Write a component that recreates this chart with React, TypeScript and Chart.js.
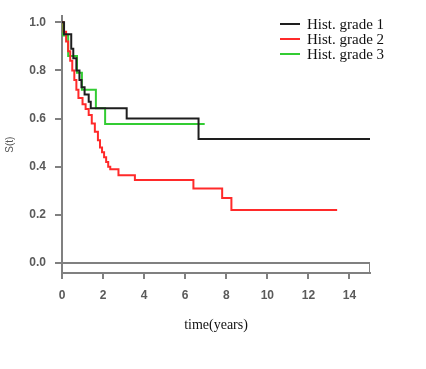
import React, { useEffect, useRef } from "react";
import { Chart, registerables } from "chart.js";

Chart.register(...registerables);

// Kaplan–Meier curves: event times (years) and survival after each event
const grade1Times = [0, 0.1, 0.45, 0.55, 0.7, 0.85, 0.95, 1.1, 1.3, 1.4, 3.15, 6.65, 15];
const grade1Surv = [1.0, 0.95, 0.89, 0.85, 0.8, 0.76, 0.73, 0.7, 0.67, 0.643, 0.6, 0.515, 0.515];

const grade2Times = [0, 0.08, 0.2, 0.3, 0.4, 0.5, 0.6, 0.7, 0.8, 1.0, 1.15, 1.3, 1.45, 1.6, 1.75, 1.85, 1.95, 2.05, 2.15, 2.25, 2.35, 2.75, 3.55, 6.4, 7.8, 8.25, 13.4];
const grade2Surv = [1.0, 0.96, 0.92, 0.88, 0.84, 0.8, 0.76, 0.72, 0.685, 0.66, 0.64, 0.615, 0.58, 0.545, 0.51, 0.48, 0.46, 0.44, 0.42, 0.4, 0.39, 0.365, 0.345, 0.31, 0.27, 0.22, 0.22];

const grade3Times = [0, 0.05, 0.3, 0.73, 0.97, 1.65, 2.1, 6.95];
const grade3Surv = [1.0, 0.945, 0.86, 0.79, 0.72, 0.643, 0.578, 0.578];

const seriesLabels = ["Hist. grade 1", "Hist. grade 2", "Hist. grade 3"];
const seriesColors = ["#1e1e1e", "#ff2a2a", "#33cc33"];

const xTicks = [0, 2, 4, 6, 8, 10, 12, 14];
const yTicks = [0, 0.2, 0.4, 0.6, 0.8, 1.0];
const xRange = [0, 15];
const yRange = [-0.041, 1.025];

const toPoints = (t: number[], s: number[]) => t.map((x, i) => ({ x, y: s[i] }));

const legendPlugin = {
  id: "kmLegend",
  afterDraw(chart: any) {
    const ctx = chart.ctx;
    ctx.save();
    ctx.font = '15px "Liberation Serif", "Times New Roman", serif';
    ctx.textBaseline = "middle";
    ctx.textAlign = "left";
    seriesLabels.forEach((lab, i) => {
      const y = 24 + i * 15;
      ctx.strokeStyle = seriesColors[i];
      ctx.lineWidth = 2;
      ctx.beginPath();
      ctx.moveTo(280, y);
      ctx.lineTo(300, y);
      ctx.stroke();
      ctx.fillStyle = "#111";
      ctx.fillText(lab, 307, y + 1);
    });
    ctx.restore();
  },
};

export default function App() {
  const ref = useRef<HTMLCanvasElement>(null);
  useEffect(() => {
    if (!ref.current) return;
    const tickFont = { family: '"Liberation Sans", Arial, sans-serif', size: 12, weight: "bold" as const };
    const chart = new Chart(ref.current, {
      type: "line",
      data: {
        datasets: [
          {
            label: "zero",
            data: [{ x: xRange[0], y: 0 }, { x: xRange[1], y: 0 }, { x: xRange[1], y: yRange[0] }],
            borderColor: "#808080",
            borderWidth: 2,
            pointRadius: 0,
          },
          {
            label: seriesLabels[0],
            data: toPoints(grade1Times, grade1Surv),
            borderColor: seriesColors[0],
            borderWidth: 2,
            pointRadius: 0,
            stepped: true,
          },
          {
            label: seriesLabels[1],
            data: toPoints(grade2Times, grade2Surv),
            borderColor: seriesColors[1],
            borderWidth: 2,
            pointRadius: 0,
            stepped: true,
          },
          {
            label: seriesLabels[2],
            data: toPoints(grade3Times, grade3Surv),
            borderColor: seriesColors[2],
            borderWidth: 2,
            pointRadius: 0,
            stepped: true,
          },
        ] as any,
      },
      options: {
        animation: false,
        responsive: false,
        layout: { padding: { top: 14, right: 56, bottom: 6, left: 0 } },
        plugins: { legend: { display: false }, tooltip: { enabled: false } },
        scales: {
          x: {
            type: "linear",
            min: xRange[0],
            max: xRange[1],
            afterBuildTicks: (s: any) => {
              s.ticks = xTicks.map((v) => ({ value: v }));
            },
            afterFit: (s: any) => {
              s.height = 90;
            },
            grid: { drawOnChartArea: false, tickLength: 6, color: "#808080", lineWidth: 2 },
            border: { color: "#808080", width: 2 },
            ticks: { font: tickFont, color: "#5a5a5a", padding: 9, maxRotation: 0 },
            title: {
              display: true,
              text: "time(years)",
              font: { family: '"Liberation Serif", "Times New Roman", serif', size: 14 },
              color: "#111",
              padding: { top: 0, bottom: 29 },
            },
          },
          y: {
            type: "linear",
            min: yRange[0],
            max: yRange[1],
            afterBuildTicks: (s: any) => {
              s.ticks = yTicks.map((v) => ({ value: v }));
            },
            afterFit: (s: any) => {
              s.width = 62;
            },
            grid: { drawOnChartArea: false, tickLength: 7, color: "#808080", lineWidth: 2 },
            border: { color: "#808080", width: 2 },
            ticks: {
              font: tickFont,
              color: "#5a5a5a",
              padding: 9,
              callback: (v: any) => Number(v).toFixed(1),
            },
            title: {
              display: true,
              text: "S(t)",
              font: { family: '"Liberation Sans", Arial, sans-serif', size: 10 },
              color: "#555",
              padding: { top: 4, bottom: 0 },
            },
          },
        },
      },
      plugins: [legendPlugin],
    });
    return () => chart.destroy();
  }, []);
  return (
    <div style={{ position: "fixed", left: 0, top: 0, width: 426, height: 369, background: "#fff" }}>
      <canvas ref={ref} width={426} height={369} />
    </div>
  );
}
